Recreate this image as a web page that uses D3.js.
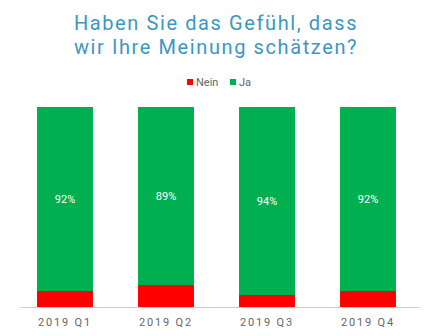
<!DOCTYPE html>
<meta charset='utf-8'>
<style type="text/css">
	body { margin: 0; background: #fff; }
	text { font-family: Roboto, sans-serif; }
</style>
<body>
<div class="chart"></div>
<script src='https://cdn.jsdelivr.net/npm/d3@7/dist/d3.min.js'></script>
<script>

var categories = ['2019 Q1', '2019 Q2', '2019 Q3', '2019 Q4'];
var nein = [8, 11, 6, 8];
var ja = [92, 89, 94, 92];
var seriesNames = ['Nein', 'Ja'];
var titleLines = ['Haben Sie das Gefühl, dass', 'wir Ihre Meinung schätzen?'];

var width = 433, height = 336;

var svg = d3.select('.chart')
	.append('svg')
	.attr('width', width)
	.attr('height', height);

var colorScale = d3.scaleOrdinal()
	.domain(seriesNames)
	.range(['#ff0000', '#00b050']);

var x = d3.scaleBand()
	.domain(categories)
	.range([14.5, 418.5])
	.paddingInner(0.446)
	.paddingOuter(0.223);

var y = d3.scaleLinear()
	.domain([0, 100])
	.range([307, 107]);

// title
svg.append('g').selectAll('text')
	.data(titleLines)
	.enter().append('text')
	.attr('x', 216)
	.attr('y', function(d, i){ return 30 + i * 24; })
	.attr('text-anchor', 'middle')
	.attr('fill', '#3b97c3')
	.style('font-size', '20px')
	.style('letter-spacing', '1.6px')
	.text(function(d){ return d; });

// legend
var legendX = [187, 230];
var legend = svg.append('g').selectAll('g')
	.data(seriesNames)
	.enter().append('g')
	.attr('transform', function(d, i){ return 'translate(' + legendX[i] + ',79)'; });
legend.append('rect')
	.attr('width', 6)
	.attr('height', 6)
	.attr('fill', function(d){ return colorScale(d); });
legend.append('text')
	.attr('x', 9)
	.attr('y', 6.5)
	.attr('fill', '#666')
	.style('font-size', '11px')
	.text(function(d){ return d; });

var rows = categories.map(function(c, i){ return { cat: c, Nein: nein[i], Ja: ja[i] }; });
var stacked = d3.stack().keys(seriesNames)(rows);

svg.append('g').selectAll('g')
	.data(stacked)
	.enter().append('g')
	.attr('fill', function(d){ return colorScale(d.key); })
	.selectAll('rect')
	.data(function(d){ return d; })
	.enter().append('rect')
	.attr('x', function(d){ return x(d.data.cat); })
	.attr('width', x.bandwidth())
	.attr('y', function(d){ return y(d[1]); })
	.attr('height', function(d){ return y(d[0]) - y(d[1]); });

// value labels on Ja
svg.append('g').selectAll('text')
	.data(stacked[1])
	.enter().append('text')
	.attr('x', function(d){ return x(d.data.cat) + x.bandwidth() / 2; })
	.attr('y', function(d){ return (y(d[0]) + y(d[1])) / 2 + 4; })
	.attr('text-anchor', 'middle')
	.attr('fill', '#fff')
	.style('font-size', '11px')
	.text(function(d){ return d.data.Ja + '%'; });

// axis
var axis = svg.append('g')
	.attr('transform', 'translate(0,307)')
	.call(d3.axisBottom(x).tickSize(0).tickPadding(11));
axis.select('.domain').attr('stroke', '#ccc').attr('d', 'M20.5,0.5H419.5');
axis.selectAll('text')
	.attr('fill', '#666')
	.style('font-size', '11px')
	.style('letter-spacing', '1.8px')
	.style('font-family', 'Roboto, sans-serif');

</script>
</body>
</html>
